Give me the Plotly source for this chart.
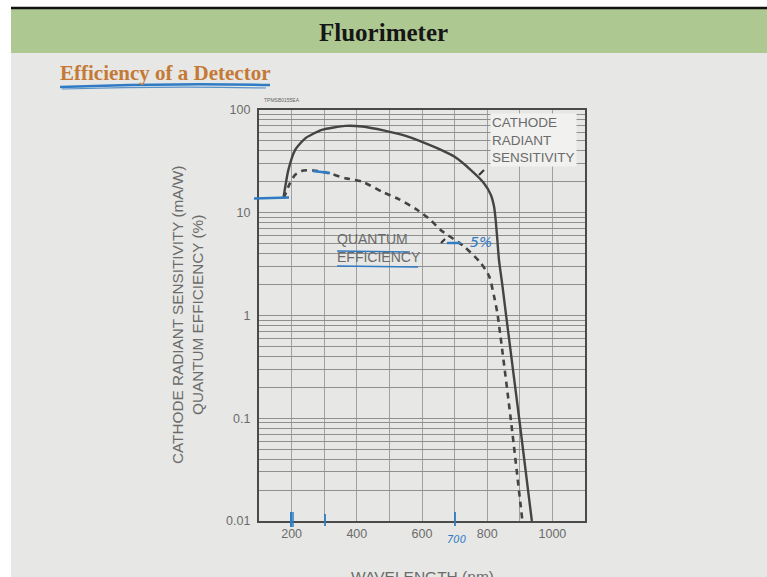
import plotly.graph_objects as go

# ---------------- data ----------------
wl_cathode = [175, 190, 211, 242, 293, 365, 416, 485, 550, 600, 650, 700, 750, 790, 811, 821, 826, 831, 836, 847, 857, 898, 937]
cathode_sens = [13.9, 26, 41, 53, 64, 70, 69, 63, 56, 49, 42, 35, 26, 19.4, 15, 11.5, 8.5, 5.5, 3.5, 1.92, 1.06, 0.1, 0.01]

wl_qe = [176, 195, 211, 236, 267, 313, 365, 416, 478, 530, 585, 626, 657, 729, 780, 806, 821, 831, 872, 908]
quantum_eff = [13.9, 19.4, 23.4, 25.8, 25.8, 24.3, 21.7, 20.1, 16.0, 13.5, 10.7, 8.5, 6.8, 4.7, 3.25, 2.41, 1.54, 1.06, 0.1, 0.01]

x_tickvals = [200, 300, 400, 500, 600, 700, 800, 900, 1000]
x_ticktext = ["200", "", "400", "", "600", "", "800", "", "1000"]

y_tickvals = [m * 10.0 ** k for k in (-2, -1, 0, 1) for m in range(1, 10)] + [100]
y_labels = {0.01: "0.01", 0.1: "0.1", 1.0: "1", 10.0: "10", 100: "100"}
y_ticktext = [next((t for val, t in y_labels.items() if abs(v - val) < 1e-9), "") for v in y_tickvals]

# ---------------- layout helpers (pixel -> paper) ----------------
L, R, T, B = 259, 585, 110, 521
W, H = 767, 577


def px(x):
    return (x - L) / (R - L)


def py(y):
    return (B - y) / (B - T)


GRAY_TXT = "#6b6b6b"
BLUE = "#2f7bc4"
SLIDE_BG = "#e7e7e5"
PLOT_BG = "#f1f1ef"

fig = go.Figure()
fig.add_trace(go.Scatter(x=wl_cathode, y=cathode_sens, mode="lines",
                         line=dict(color="#444444", width=2.4, shape="spline", smoothing=0.6),
                         name="Cathode radiant sensitivity", showlegend=False))
fig.add_trace(go.Scatter(x=wl_qe, y=quantum_eff, mode="lines",
                         line=dict(color="#444444", width=2.6, dash="6px,5px", shape="spline", smoothing=0.6),
                         name="Quantum efficiency", showlegend=False))

shapes = []
shapes.append(dict(type="rect", xref="paper", yref="paper", x0=px(11), x1=px(767), y0=py(577), y1=py(9),
                   fillcolor=SLIDE_BG, line=dict(width=0), layer="below"))
shapes.append(dict(type="rect", xref="paper", yref="paper", x0=px(11), x1=px(767), y0=py(53), y1=py(9),
                   fillcolor="#aec891", line=dict(width=0), layer="below"))
shapes.append(dict(type="line", xref="paper", yref="paper", x0=px(11), x1=px(767), y0=py(8), y1=py(8),
                   line=dict(color="#111111", width=2.5), layer="below"))


def pline(x0, y0, x1, y1, color=BLUE, width=2.2):
    shapes.append(dict(type="line", xref="paper", yref="paper", x0=px(x0), x1=px(x1), y0=py(y0), y1=py(y1),
                       line=dict(color=color, width=width), layer="above"))


# hand-drawn blue marks
shapes.append(dict(type="path", xref="paper", yref="paper",
                   path=f"M {px(60)},{py(87)} Q {px(165)},{py(83)} {px(270)},{py(85)}",
                   line=dict(color=BLUE, width=2.5), layer="above"))
shapes.append(dict(type="path", xref="paper", yref="paper",
                   path=f"M {px(62)},{py(89)} Q {px(165)},{py(86)} {px(266)},{py(88)}",
                   line=dict(color="#5a93c9", width=1.2), layer="above"))
pline(254, 198.5, 289, 197.5, width=2.6)
pline(313, 171, 330, 173, width=2.6)
pline(337, 251, 410, 252, width=1.6)
pline(337, 266, 418, 267, width=1.6)
pline(447, 243, 461, 243, width=2.4)
pline(291, 512, 291, 527, width=2)
pline(293, 512, 293, 527, width=1.5)
pline(325, 514, 325, 526, width=1.8)
pline(455, 512, 455, 526, width=1.8)
pline(441, 243, 445, 239, color="#333333", width=2.2)
pline(479, 175, 484, 170, color="#333333", width=2.2)

annotations = []
annotations.append(dict(xref="paper", yref="paper", x=px(383), y=py(33), text="<b>Fluorimeter</b>",
                        showarrow=False, xanchor="center", yanchor="middle",
                        font=dict(family="Liberation Serif", size=25, color="#161616")))
annotations.append(dict(xref="paper", yref="paper", x=px(58), y=py(73), text="<b>Efficiency of a Detector</b>",
                        showarrow=False, xanchor="left", yanchor="middle",
                        font=dict(family="Liberation Serif", size=21, color="#c47a36")))
annotations.append(dict(xref="paper", yref="paper", x=px(262), y=py(100), text="TPMSB0155EA",
                        showarrow=False, xanchor="left", yanchor="middle",
                        font=dict(family="Liberation Sans", size=5, color="#666666")))
annotations.append(dict(xref="paper", yref="paper", x=px(490), y=py(113),
                        text="CATHODE<br>RADIANT<br>SENSITIVITY",
                        showarrow=False, xanchor="left", yanchor="top", align="left",
                        bgcolor=PLOT_BG,
                        font=dict(family="Liberation Sans", size=13.5, color=GRAY_TXT)))
annotations.append(dict(xref="paper", yref="paper", x=px(335), y=py(229),
                        text="QUANTUM<br>EFFICIENCY",
                        showarrow=False, xanchor="left", yanchor="top", align="left",
                        font=dict(family="Liberation Sans", size=14, color=GRAY_TXT)))
annotations.append(dict(xref="paper", yref="paper", x=px(468), y=py(242), text="<i>5%</i>",
                        showarrow=False, xanchor="left", yanchor="middle",
                        font=dict(family="DejaVu Sans", size=14, color=BLUE)))
annotations.append(dict(xref="paper", yref="paper", x=px(456), y=py(539), text="<i>700</i>",
                        showarrow=False, xanchor="center", yanchor="middle",
                        font=dict(family="DejaVu Sans", size=10, color=BLUE)))
annotations.append(dict(xref="paper", yref="paper", x=px(187), y=py(315),
                        text="CATHODE RADIANT SENSITIVITY (mA/W)<br>QUANTUM EFFICIENCY (%)",
                        showarrow=False, xanchor="center", yanchor="middle", textangle=-90,
                        font=dict(family="Liberation Sans", size=15.3, color=GRAY_TXT)))
annotations.append(dict(xref="paper", yref="paper", x=px(422), y=py(566), text="WAVELENGTH (nm)",
                        showarrow=False, xanchor="center", yanchor="top",
                        font=dict(family="Liberation Sans", size=15.5, color=GRAY_TXT)))

fig.update_layout(
    width=W, height=H,
    margin=dict(l=L, r=W - R, t=T, b=H - B, pad=0),
    paper_bgcolor="#ffffff",
    plot_bgcolor=PLOT_BG,
    shapes=shapes,
    annotations=annotations,
    showlegend=False,
)
fig.update_xaxes(range=[100, 1100], tickmode="array", tickvals=x_tickvals, ticktext=x_ticktext,
                 showgrid=True, gridcolor="#a0a0a0", gridwidth=1,
                 showline=True, linecolor="#4a4a4a", linewidth=2.2, mirror=True,
                 ticks="", zeroline=False,
                 tickfont=dict(family="Liberation Sans", size=12.5, color=GRAY_TXT))
fig.update_yaxes(type="log", range=[-2, 2], tickmode="array", tickvals=y_tickvals, ticktext=y_ticktext,
                 showgrid=True, gridcolor="#8f8f8f", gridwidth=1,
                 showline=True, linecolor="#4a4a4a", linewidth=2.2, mirror=True,
                 ticks="", zeroline=False, ticklabelstandoff=4,
                 tickfont=dict(family="Liberation Sans", size=12.5, color=GRAY_TXT))

fig.write_html("out.html")
